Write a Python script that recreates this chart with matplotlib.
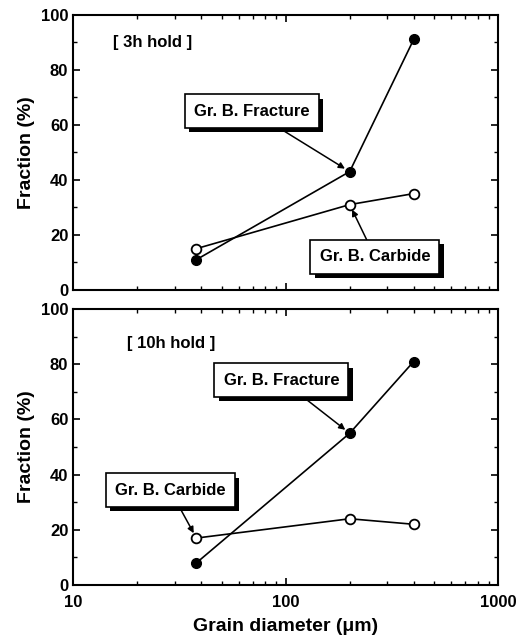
import matplotlib.pyplot as plt
import matplotlib.patheffects as pe
from matplotlib.ticker import MultipleLocator, FixedLocator, NullFormatter

plt.rcParams['font.family'] = ['Liberation Sans', 'DejaVu Sans']
plt.rcParams['font.weight'] = 'bold'

# datos
diametro = [38, 200, 400]
fractura_3h = [11, 43, 91]
carburo_3h = [15, 31, 35]
fractura_10h = [8, 55, 81]
carburo_10h = [17, 24, 22]
titulos = ["[ 3h hold ]", "[ 10h hold ]"]

fig = plt.figure(figsize=(5.19, 6.4), dpi=100)
ax1 = fig.add_axes([0.141, 0.547, 0.819, 0.430])
ax2 = fig.add_axes([0.141, 0.086, 0.819, 0.431])


def caja(ax, texto, xy, xytext):
    ann = ax.annotate(texto, xy=xy, xycoords='data', xytext=xytext,
                      textcoords='axes fraction', ha='center', va='center',
                      fontsize=12, fontweight='bold',
                      bbox=dict(boxstyle='square,pad=0.55', fc='white', ec='k', lw=1.2),
                      arrowprops=dict(arrowstyle='-|>', color='k', lw=1.1,
                                      mutation_scale=9, shrinkA=0, shrinkB=4))
    ann.get_bbox_patch().set_path_effects([
        pe.SimplePatchShadow(offset=(3, -3), shadow_rgbFace='k', alpha=1),
        pe.Normal()])
    return ann


for ax, fr, ca, tit in [(ax1, fractura_3h, carburo_3h, titulos[0]),
                        (ax2, fractura_10h, carburo_10h, titulos[1])]:
    ax.plot(diametro, fr, '-o', color='k', mfc='k', mec='k', ms=7, lw=1.2, zorder=3)
    ax.plot(diametro, ca, '-o', color='k', mfc='white', mec='k', mew=1.3, ms=7, lw=1.2, zorder=3)
    ax.set_xscale('log')
    ax.set_xlim(10, 1000)
    ax.set_ylim(0, 100)
    ax.yaxis.set_major_locator(MultipleLocator(20))
    ax.yaxis.set_minor_locator(MultipleLocator(10))
    ax.tick_params(which='both', direction='in', top=True, right=True, labelsize=12)
    ax.tick_params(which='major', length=5, width=1.2)
    ax.tick_params(which='minor', length=3, width=1)
    for s in ax.spines.values():
        s.set_linewidth(1.5)
    ax.set_ylabel("Fraction (%)", fontsize=14, fontweight='bold')
    for lab in ax.get_xticklabels() + ax.get_yticklabels():
        lab.set_fontweight('bold')

ax1.text(0.094, 0.898, titulos[0], transform=ax1.transAxes, fontsize=12,
         fontweight='bold', va='center', ha='left')
ax2.text(0.127, 0.877, titulos[1], transform=ax2.transAxes, fontsize=12,
         fontweight='bold', va='center', ha='left')

caja(ax1, "Gr. B. Fracture", (diametro[1], fractura_3h[1]), (0.42, 0.65))
caja(ax1, "Gr. B. Carbide", (diametro[1], carburo_3h[1]), (0.71, 0.12))
caja(ax2, "Gr. B. Fracture", (diametro[1], fractura_10h[1]), (0.49, 0.743))
caja(ax2, "Gr. B. Carbide", (diametro[0], carburo_10h[0]), (0.228, 0.344))

ax1.xaxis.set_major_formatter(NullFormatter())
ax1.xaxis.set_minor_formatter(NullFormatter())
ax2.xaxis.set_major_locator(FixedLocator([10, 100, 1000]))
ax2.set_xticklabels(["10", "100", "1000"], fontweight='bold')
ax2.xaxis.set_minor_formatter(NullFormatter())
ax2.tick_params(axis='x', pad=7)
ax2.set_xlabel("Grain diameter (μm)", fontsize=14, fontweight='bold', labelpad=6)

fig.savefig("out.png", dpi=100)
